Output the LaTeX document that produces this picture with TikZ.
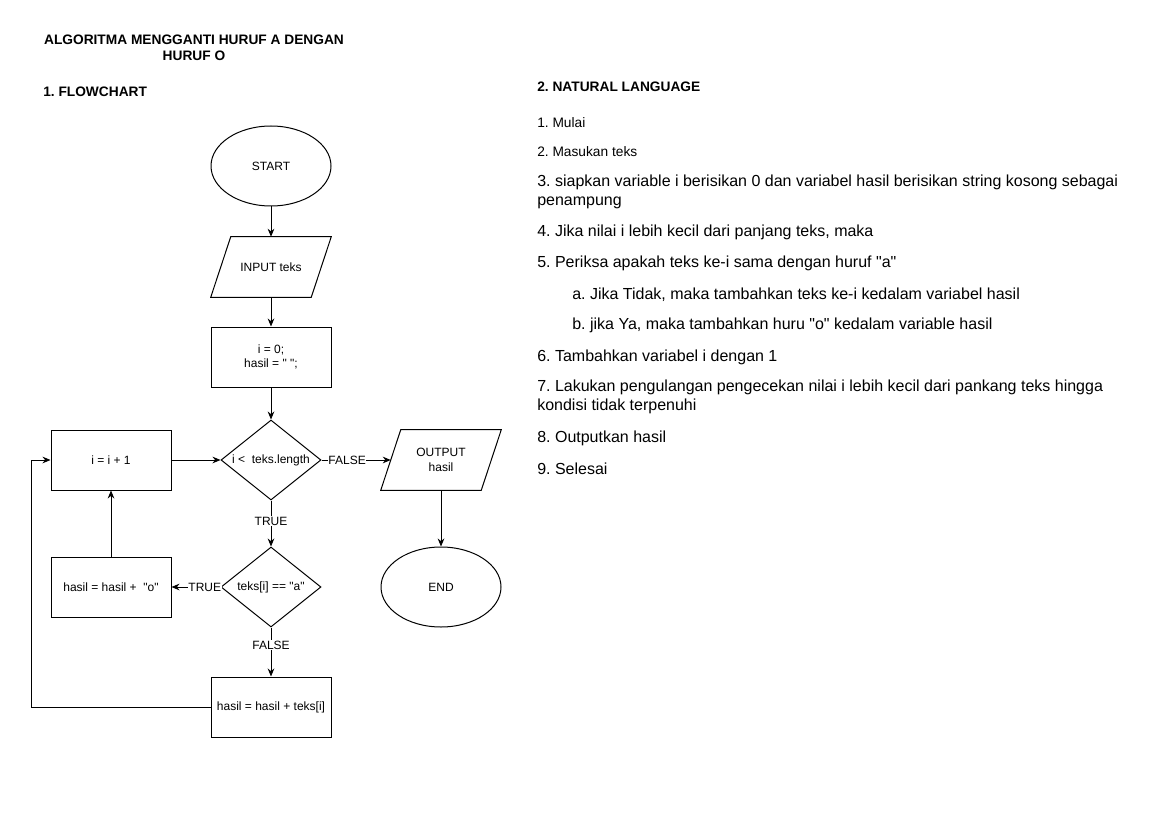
\documentclass[tikz,border=0pt]{standalone}
\usepackage{fontspec}
\setmainfont{Liberation Sans}[Ligatures=TeXOff]
\usetikzlibrary{arrows.meta,shapes.geometric}
\begin{document}
\frenchspacing
\begin{tikzpicture}[x=0.75pt,y=-0.75pt,
  every node/.style={font=\fontsize{9pt}{11pt}\selectfont, inner sep=0pt},
  box/.style={draw, line width=0.75pt, minimum width=90pt, minimum height=45pt, align=center},
  term/.style={draw, ellipse, line width=0.75pt, minimum width=90pt, minimum height=60pt},
  dec/.style={draw, diamond, line width=0.75pt, minimum width=75pt, minimum height=60pt, aspect=1.25},
  io/.style={minimum width=90pt, minimum height=45pt, align=center},
  conn/.style={line width=0.75pt, -{Stealth[length=6pt,width=5pt]}},
  lbl/.style={fill=white, inner sep=0.5pt},
  txt/.style={anchor=west, font=\fontsize{12pt}{14pt}\selectfont, align=left},
  stxt/.style={anchor=west, font=\fontsize{10.3pt}{12pt}\selectfont},
  head/.style={font=\fontsize{10.3pt}{12pt}\selectfont\bfseries}
]
\useasboundingbox (0,0) rectangle (1169,827);
\fill[white] (0,0) rectangle (1169,827);

% titles
\node[head, align=center] (title) at (194,48) {ALGORITMA MENGGANTI HURUF A DENGAN\\HURUF O};
\node[head, anchor=west] (fc) at (43,92) {1. FLOWCHART};

% flowchart nodes
\node[term] (start) at (271,166) {START};
\node[io] (input) at (271,267) {INPUT teks};
\draw[line width=0.75pt] ([xshift=15pt]input.north west) -- (input.north east) -- ([xshift=-15pt]input.south east) -- (input.south west) -- cycle;
\node[box] (init) at (271,357) {i = 0;\\hasil = " ";};
\node[dec] (cond) at (271,460) {i <~ teks.length};
\node[box] (inc) at (111,460) {i = i + 1};
\node[io] (output) at (441,460) {OUTPUT\\hasil};
\draw[line width=0.75pt] ([xshift=15pt]output.north west) -- (output.north east) -- ([xshift=-15pt]output.south east) -- (output.south west) -- cycle;
\node[term] (end) at (441,587) {END};
\node[dec] (chk) at (271,587) {teks[i] == "a"};
\node[box] (addo) at (111,587) {hasil = hasil +~ "o"};
\node[box] (addt) at (271,707) {hasil = hasil + teks[i]};
\coordinate (lb) at (31,707);
\coordinate (lt) at (31,460);

% connectors
\draw[conn] (start) -- (input);
\draw[conn] (input) -- (init);
\draw[conn] (init) -- (cond);
\draw[conn] (inc) -- (cond);
\draw[conn] (cond) -- node[lbl, pos=0.37] {FALSE} ([xshift=7.5pt]output.west);
\draw[conn] (output) -- (end);
\draw[conn] (cond) -- node[lbl, pos=0.45] {TRUE} (chk);
\draw[conn] (chk) -- node[lbl, pos=0.32] {TRUE} (addo);
\draw[conn] (chk) -- node[lbl, pos=0.36] {FALSE} (addt);
\draw[conn] (addo) -- (inc);
\draw[conn] (addt.west) -- (lb) -- (lt) -- (inc.west);

% natural language
\node[head, anchor=west] (nl) at (537,87) {2. NATURAL LANGUAGE};
\node[stxt] (s1) at (537,123) {1. Mulai};
\node[stxt] (s2) at (537,152) {2. Masukan teks};
\node[txt] (s3) at (537,192) {3. siapkan variable i berisikan 0 dan variabel hasil berisikan string kosong sebagai\\penampung};
\node[txt] (s4) at (537,232) {4. Jika nilai i lebih kecil dari panjang teks, maka};
\node[txt] (s5) at (537,263) {5. Periksa apakah teks ke-i sama dengan huruf "a"};
\node[txt] (s5a) at (572,295) {a. Jika Tidak, maka tambahkan teks ke-i kedalam variabel hasil};
\node[txt] (s5b) at (572,325) {b. jika Ya, maka tambahkan huru "o" kedalam variable hasil};
\node[txt] (s6) at (537,357) {6. Tambahkan variabel i dengan 1};
\node[txt] (s7) at (537,397) {7. Lakukan pengulangan pengecekan nilai i lebih kecil dari pankang teks hingga\\kondisi tidak terpenuhi};
\node[txt] (s8) at (537,438) {8. Outputkan hasil};
\node[txt] (s9) at (537,469) {9. Selesai};
\end{tikzpicture}
\end{document}
